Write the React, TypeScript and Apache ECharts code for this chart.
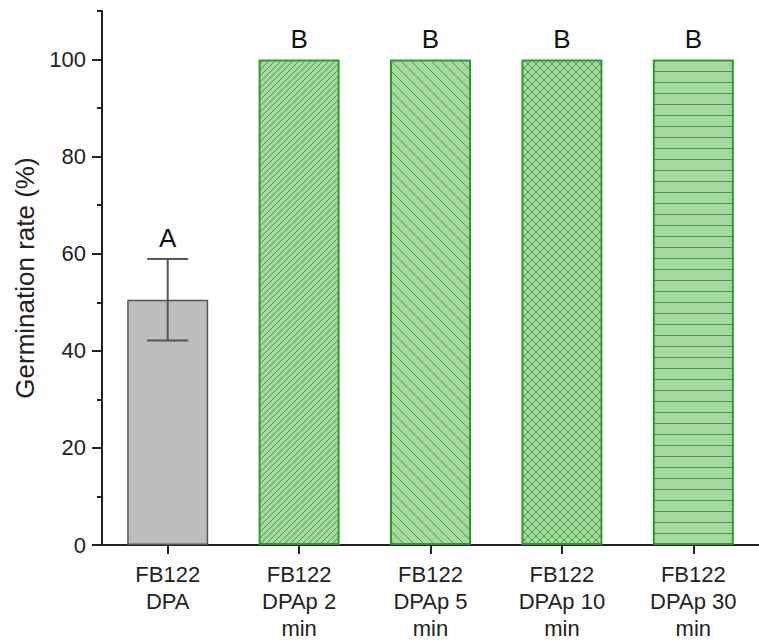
import React, { useEffect, useRef } from 'react';
import * as echarts from 'echarts';

const categories = [
  'FB122\nDPA',
  'FB122\nDPAp 2\nmin',
  'FB122\nDPAp 5\nmin',
  'FB122\nDPAp 10\nmin',
  'FB122\nDPAp 30\nmin',
];
const means = [50.5, 100, 100, 100, 100];
const errLow: (number | null)[] = [42.1, null, null, null, null];
const errHigh: (number | null)[] = [58.9, null, null, null, null];
const letters = ['A', 'B', 'B', 'B', 'B'];
const patterns = ['none', 'slash', 'backslash', 'cross', 'horizontal'];
const majorTicks = [0, 20, 40, 60, 80, 100];
const minorTicks = [10, 30, 50, 70, 90, 110];

const FONT = 'Arial, "Liberation Sans", Helvetica, sans-serif';
const GREEN_BG = '#a6d8a1';
const GREEN_LINE = '#4a9c45';
const GREEN_BORDER = '#2f9a2f';

function makePattern(kind: string) {
  const s = kind === 'slash' ? 6 : kind === 'backslash' ? 10 : kind === 'cross' ? 8 : 11;
  const c = document.createElement('canvas');
  c.width = s;
  c.height = s;
  const ctx = c.getContext('2d')!;
  ctx.fillStyle = GREEN_BG;
  ctx.fillRect(0, 0, s, s);
  ctx.strokeStyle = GREEN_LINE;
  ctx.lineWidth = 1;
  const seg = (x1: number, y1: number, x2: number, y2: number) => {
    ctx.beginPath();
    ctx.moveTo(x1, y1);
    ctx.lineTo(x2, y2);
    ctx.stroke();
  };
  if (kind === 'slash' || kind === 'cross') {
    seg(-1, s + 1, s + 1, -1);
    seg(-1, 1, 1, -1);
    seg(s - 1, s + 1, s + 1, s - 1);
  }
  if (kind === 'backslash' || kind === 'cross') {
    seg(-1, -1, s + 1, s + 1);
    seg(s - 1, -1, s + 1, 1);
    seg(-1, s - 1, 1, s + 1);
  }
  if (kind === 'horizontal') {
    seg(0, 5.5, s, 5.5);
  }
  return { image: c, repeat: 'repeat', imageWidth: s, imageHeight: s };
}

export default function App() {
  const ref = useRef<HTMLDivElement>(null);
  useEffect(() => {
    if (!ref.current) return;
    const chart = echarts.init(ref.current, null, { renderer: 'svg' });

    const barData = means.map((v, i) => {
      const kind = patterns[i];
      if (kind === 'none') {
        return {
          value: v,
          itemStyle: { color: '#bdbdbd', borderColor: '#555555', borderWidth: 1.5 },
        };
      }
      return {
        value: v,
        itemStyle: { color: makePattern(kind) as any, borderColor: GREEN_BORDER, borderWidth: 2 },
      };
    });

    const errData = means
      .map((_, i) => (errLow[i] != null && errHigh[i] != null ? [i, errLow[i], errHigh[i]] : null))
      .filter((d) => d != null);

    const letterData = letters.map((_, i) => [i, errHigh[i] != null ? errHigh[i] : means[i]]);

    const option: any = {
      animation: false,
      backgroundColor: '#ffffff',
      grid: { left: 102, right: -11, top: 11, bottom: 97, containLabel: false },
      xAxis: {
        type: 'category',
        data: categories,
        axisLine: { show: true, lineStyle: { color: '#222', width: 2 } },
        axisTick: { show: true, alignWithLabel: true, length: 9, lineStyle: { color: '#222', width: 2 } },
        axisLabel: {
          color: '#222',
          fontSize: 22,
          fontFamily: FONT,
          lineHeight: 27,
          margin: 16,
          interval: 0,
        },
        splitLine: { show: false },
      },
      yAxis: [
        {
          type: 'value',
          min: 0,
          max: 110,
          name: 'Germination rate (%)',
          nameLocation: 'middle',
          nameGap: 60,
          nameTextStyle: { fontSize: 26, fontFamily: FONT, color: '#222' },
          axisLine: { show: true, lineStyle: { color: '#222', width: 2 } },
          axisTick: { show: true, length: 10, customValues: majorTicks, lineStyle: { color: '#222', width: 2 } },
          axisLabel: { show: true, customValues: majorTicks, color: '#222', fontSize: 22, fontFamily: FONT, margin: 16 },
          splitLine: { show: false },
        },
        {
          type: 'value',
          min: 0,
          max: 110,
          position: 'left',
          axisLine: { show: false },
          axisTick: { show: true, length: 5, customValues: minorTicks, lineStyle: { color: '#222', width: 2 } },
          axisLabel: { show: false },
          splitLine: { show: false },
        },
      ],
      series: [
        {
          type: 'bar',
          data: barData,
          barWidth: 81,
          yAxisIndex: 0,
          z: 2,
        },
        {
          type: 'custom',
          yAxisIndex: 0,
          z: 5,
          data: errData,
          renderItem: (params: any, api: any) => {
            const x = api.value(0);
            const lo = api.coord([x, api.value(1)]);
            const hi = api.coord([x, api.value(2)]);
            const hw = 20.5;
            const style = { stroke: '#555555', lineWidth: 2 };
            return {
              type: 'group',
              children: [
                { type: 'line', shape: { x1: lo[0], y1: lo[1], x2: hi[0], y2: hi[1] }, style },
                { type: 'line', shape: { x1: hi[0] - hw, y1: hi[1], x2: hi[0] + hw, y2: hi[1] }, style },
                { type: 'line', shape: { x1: lo[0] - hw, y1: lo[1], x2: lo[0] + hw, y2: lo[1] }, style },
              ],
            };
          },
        },
        {
          type: 'custom',
          yAxisIndex: 0,
          z: 6,
          data: letterData,
          renderItem: (params: any, api: any) => {
            const p = api.coord([api.value(0), api.value(1)]);
            return {
              type: 'text',
              x: p[0],
              y: p[1] - 21,
              style: {
                text: letters[params.dataIndex],
                fontSize: 26,
                fontFamily: FONT,
                fill: '#111',
                align: 'center',
                verticalAlign: 'middle',
              },
            };
          },
        },
      ],
    };
    chart.setOption(option);
    return () => chart.dispose();
  }, []);
  return (
    <div
      ref={ref}
      style={{ position: 'absolute', left: 0, top: 0, width: 759, height: 642, background: '#fff' }}
    />
  );
}
